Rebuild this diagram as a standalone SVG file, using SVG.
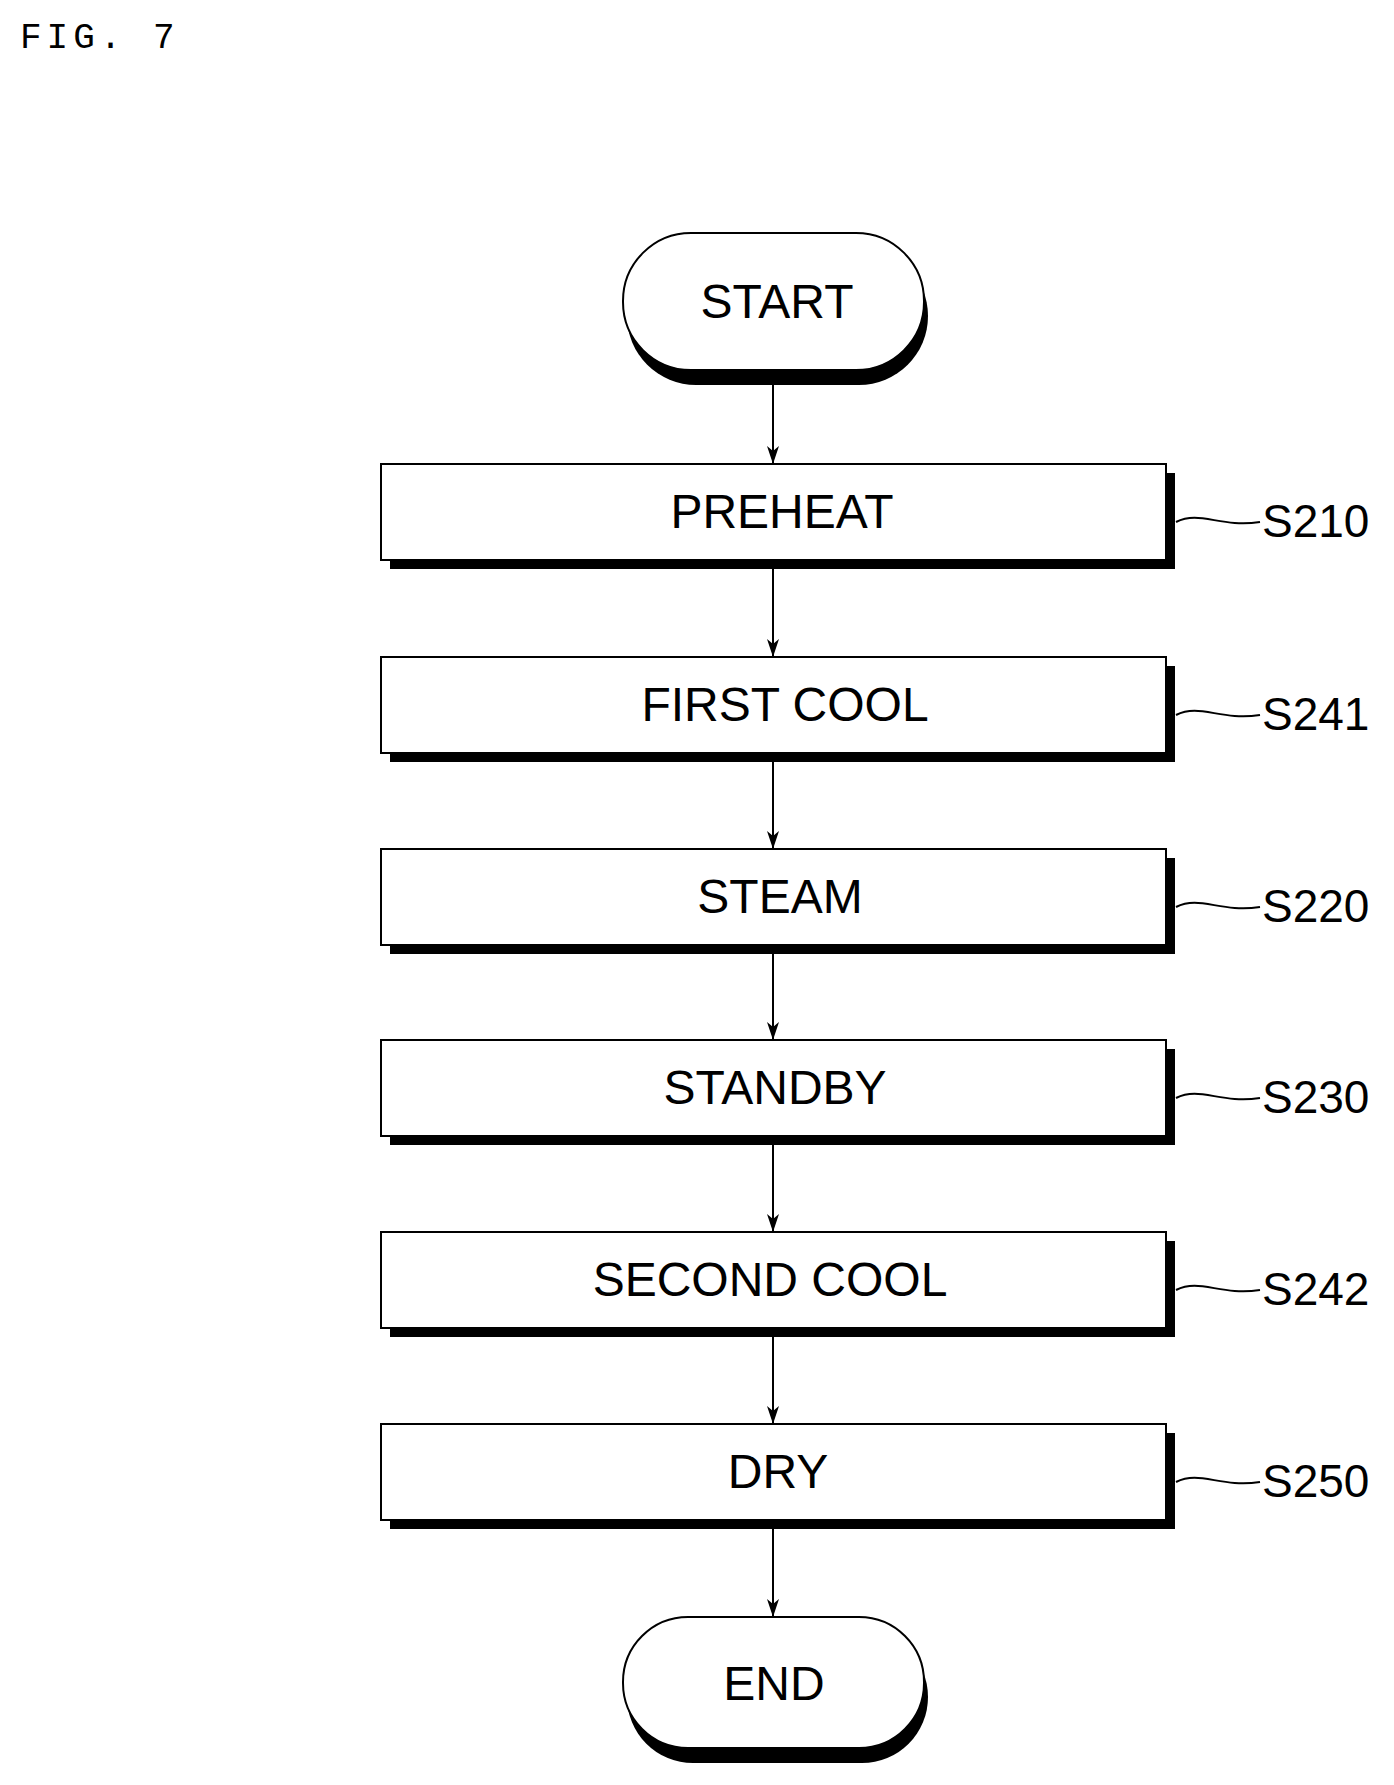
<svg xmlns="http://www.w3.org/2000/svg" width="1394" height="1785" viewBox="0 0 1394 1785">
<style>
.b{fill:#fff;stroke:#000;stroke-width:2}
.sh{fill:#000}
.t{font-family:"Liberation Sans",Arial,sans-serif;font-size:48px;text-anchor:middle}
.l{font-family:"Liberation Sans",Arial,sans-serif;font-size:46px}
.c{fill:none;stroke:#000;stroke-width:2}
</style>
<defs>
<marker id="ar" markerWidth="18" markerHeight="12" refX="18" refY="6" orient="auto" markerUnits="userSpaceOnUse" viewBox="0 0 18 12"><path d="M0,0 L18,6 L0,12 L5,6 Z" fill="#000"/></marker></defs>
<text x="20" y="48" font-family="Liberation Mono,monospace" font-size="36" letter-spacing="5">FIG. 7</text>
<g id="start"><rect x="627" y="247" width="301" height="138" rx="69" class="sh"/><rect x="623" y="233" width="301" height="137" rx="68" class="b"/><text x="777" y="318" class="t">START</text></g>
<g id="s210"><rect x="390" y="473" width="785" height="96" class="sh"/><rect x="381" y="464" width="785" height="96" class="b"/><text x="782" y="528" class="t">PREHEAT</text><path class="c" d="M1176,522 C1200,510 1220,528 1260,522"/><text x="1262" y="537" class="l">S210</text></g>
<g id="s241"><rect x="390" y="666" width="785" height="96" class="sh"/><rect x="381" y="657" width="785" height="96" class="b"/><text x="785" y="721" class="t">FIRST COOL</text><path class="c" d="M1176,715 C1200,703 1220,721 1260,715"/><text x="1262" y="730" class="l">S241</text></g>
<g id="s220"><rect x="390" y="858" width="785" height="96" class="sh"/><rect x="381" y="849" width="785" height="96" class="b"/><text x="780" y="913" class="t">STEAM</text><path class="c" d="M1176,907 C1200,895 1220,913 1260,907"/><text x="1262" y="922" class="l">S220</text></g>
<g id="s230"><rect x="390" y="1049" width="785" height="96" class="sh"/><rect x="381" y="1040" width="785" height="96" class="b"/><text x="775" y="1104" class="t">STANDBY</text><path class="c" d="M1176,1098 C1200,1086 1220,1104 1260,1098"/><text x="1262" y="1113" class="l">S230</text></g>
<g id="s242"><rect x="390" y="1241" width="785" height="96" class="sh"/><rect x="381" y="1232" width="785" height="96" class="b"/><text x="770" y="1296" class="t">SECOND COOL</text><path class="c" d="M1176,1290 C1200,1278 1220,1296 1260,1290"/><text x="1262" y="1305" class="l">S242</text></g>
<g id="s250"><rect x="390" y="1433" width="785" height="96" class="sh"/><rect x="381" y="1424" width="785" height="96" class="b"/><text x="778" y="1488" class="t">DRY</text><path class="c" d="M1176,1482 C1200,1470 1220,1488 1260,1482"/><text x="1262" y="1497" class="l">S250</text></g>
<g id="end"><rect x="627" y="1631" width="301" height="132" rx="66" class="sh"/><rect x="623" y="1617" width="301" height="131" rx="65" class="b"/><text x="774" y="1700" class="t">END</text></g>
<g id="connectors" stroke="#000" stroke-width="2">
<line x1="773" y1="385" x2="773" y2="464" marker-end="url(#ar)"/>
<line x1="773" y1="569" x2="773" y2="657" marker-end="url(#ar)"/>
<line x1="773" y1="762" x2="773" y2="849" marker-end="url(#ar)"/>
<line x1="773" y1="954" x2="773" y2="1040" marker-end="url(#ar)"/>
<line x1="773" y1="1145" x2="773" y2="1232" marker-end="url(#ar)"/>
<line x1="773" y1="1337" x2="773" y2="1424" marker-end="url(#ar)"/>
<line x1="773" y1="1529" x2="773" y2="1617" marker-end="url(#ar)"/>
</g>
</svg>
